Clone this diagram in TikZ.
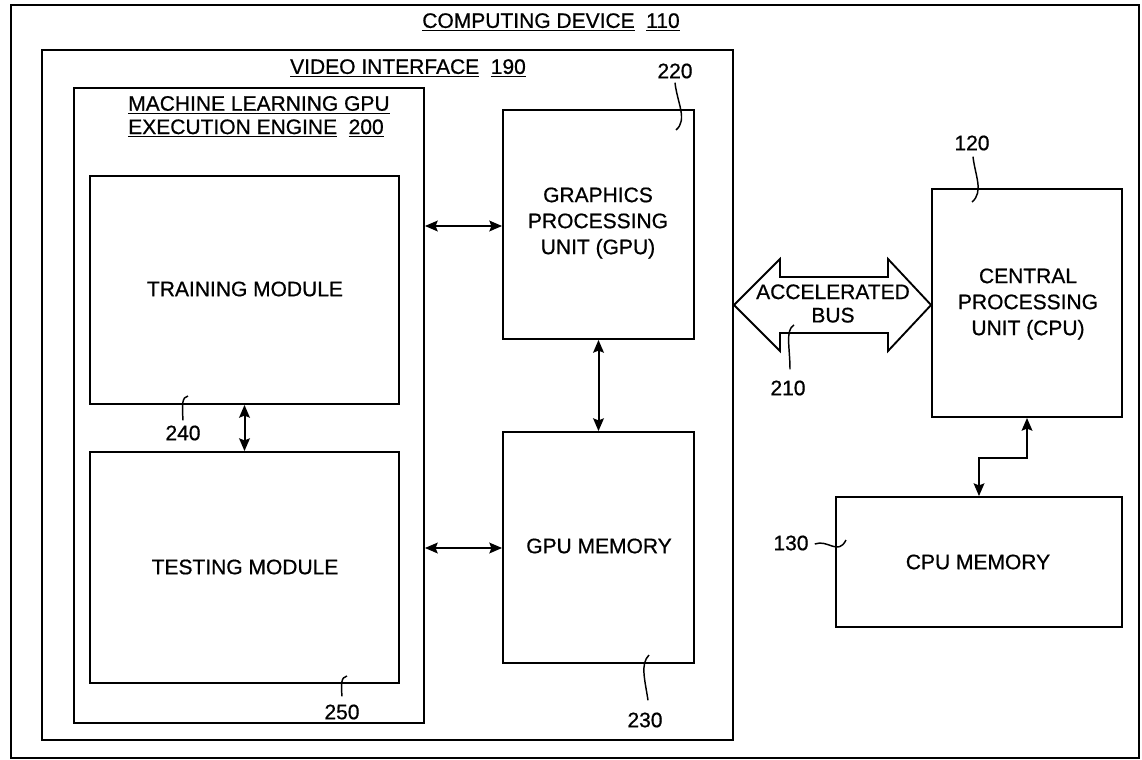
\documentclass[tikz,border=0pt]{standalone}
\usepackage{fontspec}
\setmainfont{Liberation Sans}[FakeBold=0.7]
\usetikzlibrary{fit,arrows.meta}
\newcommand\txtfont{\fontsize{15.75pt}{19.5pt}\selectfont}
\newcommand\txtfontb{\fontsize{15.75pt}{17.5pt}\selectfont}
\begin{document}
\begin{tikzpicture}[x=0.75pt,y=-0.75pt,
  box/.style={draw, line width=1.4pt, inner sep=0pt},
  lbl/.style={font=\txtfont, inner sep=0pt, align=center},
  link/.style={line width=1.5pt, {Stealth[length=9.5pt,width=8pt,inset=1.5pt]}-{Stealth[length=9.5pt,width=8pt,inset=1.5pt]}},
  lead/.style={line width=1.1pt}]
\useasboundingbox (0,0) rectangle (1142,760);
% boxes
\node[box, fit={(11,5)(1139,758)}] (outer) {};
\node[box, fit={(42,50)(733,740)}] (video) {};
\node[box, fit={(74,88)(424,723)}] (ml) {};
\node[box, fit={(90,176)(399,404)}] (train) {};
\node[box, fit={(90,452)(399,683)}] (test) {};
\node[box, fit={(503,110)(694,339)}] (gpu) {};
\node[box, fit={(503,432)(694,663)}] (gmem) {};
\node[box, fit={(932,189)(1122,417)}] (cpu) {};
\node[box, fit={(836,497)(1122,627)}] (cmem) {};
% headings and texts
\node[lbl] (hdev) at (551,22) {\underline{COMPUTING DEVICE}\hspace{0.55em}\underline{110}};
\node[lbl] (hvid) at (408,68) {\underline{VIDEO INTERFACE}\hspace{0.55em}\underline{190}};
\node[lbl, font=\txtfontb, align=left, anchor=west] (hml) at (128,116.5) {\underline{MACHINE LEARNING GPU}\\\underline{EXECUTION ENGINE}\hspace{0.55em}\underline{200}};
\node[lbl] (ttrain) at (245,289) {TRAINING MODULE};
\node[lbl] (ttest) at (245,567) {TESTING MODULE};
\node[lbl] (tgpu) at (598,223) {GRAPHICS\\PROCESSING\\UNIT (GPU)};
\node[lbl] (tcpu) at (1028,304) {CENTRAL\\PROCESSING\\UNIT (CPU)};
\node[lbl] (tgmem) at (599,546) {GPU MEMORY};
\node[lbl] (tcmem) at (978,562) {CPU MEMORY};
% accelerated bus
\coordinate (busy) at (0,305);
\coordinate (busL) at (video.east |- busy);
\coordinate (busR) at (cpu.west |- busy);
\draw[line width=1.4pt, line join=miter] (busL) -- (780,259) -- (780,277) -- (888,277) -- (888,259) -- (busR) -- (888,351) -- (888,333) -- (780,333) -- (780,351) -- cycle;
\node[lbl, font=\txtfontb] (bus) at (833,303.5) {ACCELERATED\\BUS};
% connectors
\coordinate (ya) at (0,226);
\coordinate (yb) at (0,548);
\draw[link] (ml.east |- ya) -- (gpu.west |- ya);
\draw[link] (ml.east |- yb) -- (gmem.west |- yb);
\draw[link] (train.south) -- (test.north);
\draw[link] (gpu.south) -- (gmem.north);
\draw[link] (cpu.south) -- ++(0,40) -| (cmem.north);
% reference numerals
\node[lbl] (n220) at (675,71) {220};
\node[lbl] (n120) at (972,143) {120};
\node[lbl] (n240) at (183,433) {240};
\node[lbl] (n250) at (342,712) {250};
\node[lbl] (n230) at (645,720) {230};
\node[lbl] (n210) at (788,388) {210};
\node[lbl] (n130) at (791,543) {130};
\coordinate (e220) at (676,130);
\coordinate (e120) at (972,202);
\coordinate (e240) at (188,396);
\coordinate (e250) at (347,676);
\coordinate (e230) at (649,655);
\coordinate (e210) at (794,325);
\coordinate (e130) at (846,540);
\draw[lead] (n220.south) ++(0,4) .. controls (677,102) and (688,120) .. (e220);
\draw[lead] (n120.south) ++(1,6) .. controls (975,175) and (984,192) .. (e120);
\draw[lead] (n240.north) ++(0,-5) .. controls (182,404) and (182,397) .. (e240);
\draw[lead] (n250.north) ++(0,-8) .. controls (341,684) and (341,677) .. (e250);
\draw[lead] (n230.north) ++(3,-12) .. controls (645,680) and (640,664) .. (e230);
\draw[lead] (n210.north) ++(2,-11) .. controls (790,348) and (785,330) .. (e210);
\draw[lead] (n130.east) ++(6,1) .. controls (828,539) and (838,556) .. (e130);
\end{tikzpicture}
\end{document}
